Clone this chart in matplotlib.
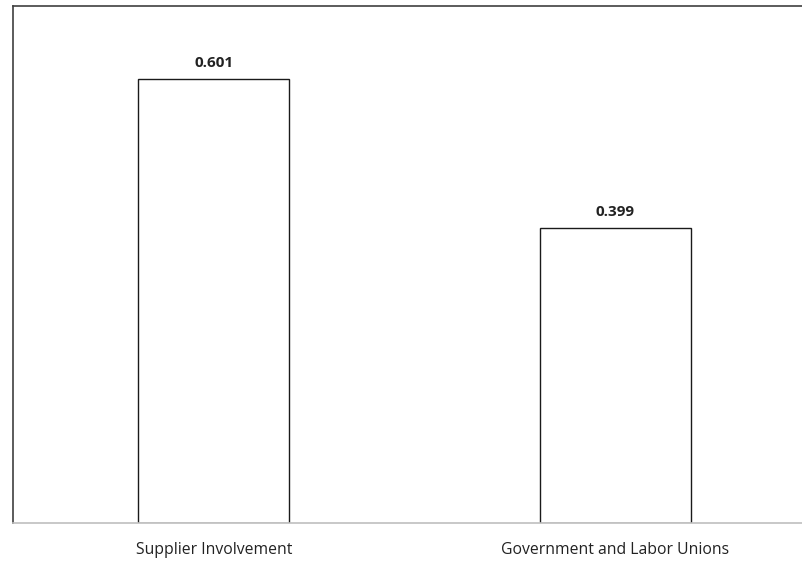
import matplotlib.pyplot as plt

categories = ["Supplier Involvement", "Government and Labor Unions"]
values = [0.601, 0.399]
value_labels = ["0.601", "0.399"]

plt.rcParams['font.family'] = ['Open Sans', 'DejaVu Sans']

fig = plt.figure(figsize=(8.03, 5.61), dpi=100)
ax = fig.add_axes([13 / 803, 38 / 561, 803 / 803, 517 / 561])

x = range(len(categories))
bars = ax.bar(x, values, width=0.376, color='white', edgecolor='#1a1a1a', linewidth=1.0)

# value labels above the bars
for rect, lab in zip(bars, value_labels):
    ax.annotate(lab, (rect.get_x() + rect.get_width() / 2, rect.get_height()),
                xytext=(0, 6.5), textcoords='offset points', ha='center', va='bottom',
                fontsize=11, fontweight='bold', color='#222222')

ax.set_xlim(-0.5, 1.5)
ax.set_ylim(0, 0.7)
ax.set_xticks(list(x))
ax.set_xticklabels(categories, fontsize=11.3, color='#222222')
ax.tick_params(axis='x', length=0, pad=14)
ax.set_yticks([])

for side in ['left', 'top', 'right']:
    ax.spines[side].set_color('#404040')
    ax.spines[side].set_linewidth(1.2)
ax.spines['bottom'].set_color('#bfbfbf')
ax.spines['bottom'].set_linewidth(1.2)

fig.savefig("out.png", dpi=100)
